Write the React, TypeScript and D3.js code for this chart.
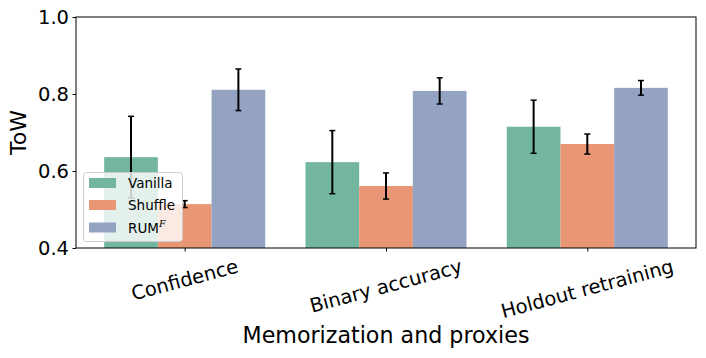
import React, { useEffect, useRef } from "react";
import * as d3 from "d3";

// data
const categories = ["Confidence", "Binary accuracy", "Holdout retraining"];
const seriesNames = ["Vanilla", "Shuffle", "RUM"];
const vanilla = [0.636, 0.623, 0.715];
const vanillaErr = [0.106, 0.082, 0.069];
const shuffle = [0.514, 0.561, 0.670];
const shuffleErr = [0.009, 0.034, 0.026];
const rum = [0.811, 0.808, 0.816];
const rumErr = [0.054, 0.034, 0.019];
const yTicks = [0.4, 0.6, 0.8, 1.0];
const colors = ["#72b6a1", "#e99675", "#95a3c3"];

const W = 706, H = 358;
const m = { left: 76, right: 10, top: 17, bottom: 110 };
const font = "DejaVu Sans, sans-serif";

export default function App() {
  const ref = useRef<SVGSVGElement>(null);

  useEffect(() => {
    const svg = d3.select(ref.current);
    svg.selectAll("*").remove();
    const innerW = W - m.left - m.right;
    const innerH = H - m.top - m.bottom;

    const x = d3.scaleLinear().domain([-0.54, 2.54]).range([m.left, m.left + innerW]);
    const y = d3.scaleLinear().domain([0.4, 1.0]).range([m.top + innerH, m.top]);

    const values = [vanilla, shuffle, rum];
    const errs = [vanillaErr, shuffleErr, rumErr];
    const barW = 0.8 / 3;

    const g = svg.append("g");
    // bars
    values.forEach((vals, s) => {
      g.selectAll(".bar" + s).data(vals).enter().append("rect")
        .attr("x", (d, i) => x(i - 0.4 + s * barW))
        .attr("width", x(barW) - x(0))
        .attr("y", d => y(d))
        .attr("height", d => y(0.4) - y(d))
        .attr("fill", colors[s]);
    });
    // error bars
    values.forEach((vals, s) => {
      vals.forEach((v, i) => {
        const cx = x(i - 0.4 + (s + 0.5) * barW);
        const e = errs[s][i];
        const eg = g.append("g").attr("stroke", "#000").attr("stroke-width", 2);
        eg.append("line").attr("x1", cx).attr("x2", cx).attr("y1", y(v + e)).attr("y2", y(v - e));
        [v + e, v - e].forEach(t => {
          eg.append("line").attr("x1", cx - 3).attr("x2", cx + 3).attr("y1", y(t)).attr("y2", y(t)).attr("stroke-width", 1.5);
        });
      });
    });

    // frame
    svg.append("rect").attr("x", m.left).attr("y", m.top).attr("width", innerW).attr("height", innerH)
      .attr("fill", "none").attr("stroke", "#000").attr("stroke-width", 1);

    // y axis
    const ya = svg.append("g").attr("transform", `translate(${m.left},0)`)
      .call(d3.axisLeft(y).tickValues(yTicks).tickFormat(d3.format(".1f")).tickSize(3.5).tickPadding(3.5));
    ya.select(".domain").remove();
    ya.selectAll("text").attr("font-family", font).attr("font-size", 19.5).attr("fill", "#000");
    ya.selectAll("line").attr("stroke", "#000");

    // x ticks
    const xa = svg.append("g").attr("transform", `translate(0,${m.top + innerH})`)
      .call(d3.axisBottom(x).tickValues([0, 1, 2]).tickFormat(() => "").tickSize(3.5));
    xa.select(".domain").remove();
    xa.selectAll("line").attr("stroke", "#000");

    categories.forEach((c, i) => {
      const t = svg.append("text").text(c)
        .attr("font-family", font).attr("font-size", 19.5)
        .attr("text-anchor", "middle").attr("dominant-baseline", "central");
      const w = (t.node() as SVGTextElement).getComputedTextLength();
      const h = 19.5 * 1.16;
      const a = (15 * Math.PI) / 180;
      const bh = w * Math.sin(a) + h * Math.cos(a);
      const cy = m.top + innerH + 7 + bh / 2;
      t.attr("transform", `translate(${x(i)},${cy}) rotate(-15)`);
    });

    // axis labels
    svg.append("text").text("Memorization and proxies")
      .attr("x", m.left + innerW / 2).attr("y", 343)
      .attr("font-family", font).attr("font-size", 22.2).attr("text-anchor", "middle");
    svg.append("text").text("ToW")
      .attr("transform", `translate(26,${m.top + innerH / 2}) rotate(-90)`)
      .attr("font-family", font).attr("font-size", 22).attr("text-anchor", "middle");

    // legend
    const lg = svg.append("g");
    lg.append("rect").attr("x", 83.5).attr("y", 172.5).attr("width", 99).attr("height", 69)
      .attr("rx", 3).attr("fill", "#fff").attr("fill-opacity", 0.8)
      .attr("stroke", "#cccccc").attr("stroke-width", 1);
    const rows = [183, 205, 227.5];
    seriesNames.forEach((n, s) => {
      lg.append("rect").attr("x", 89).attr("y", rows[s] - 5).attr("width", 27).attr("height", 10)
        .attr("fill", colors[s]);
      const t = lg.append("text").attr("x", 128).attr("y", rows[s] + 5)
        .attr("font-family", font).attr("font-size", 13.5).text(n);
      if (s === 2) {
        t.append("tspan").text("F").attr("font-family", "DejaVu Serif, serif")
          .attr("font-style", "italic").attr("font-size", 9.5).attr("dy", -6);
      }
    });
  }, []);

  return <svg ref={ref} width={W} height={H} style={{ position: "absolute", left: 0, top: 0, background: "#fff" }} />;
}
